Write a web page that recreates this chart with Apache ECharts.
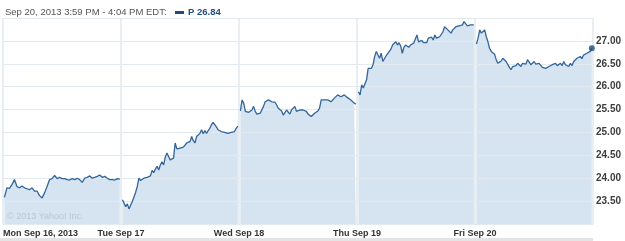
<!DOCTYPE html>
<html><head><meta charset="utf-8">
<script src="https://cdn.jsdelivr.net/npm/echarts@6/dist/echarts.min.js"></script>
<style>html,body{margin:0;padding:0;background:#fff}#c{width:625px;height:241px}</style>
</head><body><div id="c"></div>
<script>
const dayLabels = ['Mon Sep 16, 2013', 'Tue Sep 17', 'Wed Sep 18', 'Thu Sep 19', 'Fri Sep 20', ''];
const headerText = 'Sep 20, 2013 3:59 PM - 4:04 PM EDT:';
const ticker = 'P';
const yMin = 23, yMax = 27.5, yStep = 0.5;

const mon = [23.58,23.79,23.78,23.86,23.97,23.82,23.79,23.83,23.79,23.77,23.75,23.79,23.72,23.72,23.62,23.57,23.68,23.82,23.97,23.99,24.06,23.99,24.02,23.99,23.99,23.97,23.96,23.99,23.97,24.00,23.97,23.91,24.00,24.02,24.05,24.00,24.02,24.04,24.07,24.02,24.04,24.00,23.97,23.97,23.96,23.99,23.98];
const tue = [23.53,23.57,23.38,23.44,23.33,23.31,23.49,23.59,23.69,23.82,24.00,23.95,23.97,24.00,23.98,24.02,24.00,24.05,24.17,24.12,24.20,24.26,24.18,24.29,24.36,24.29,24.46,24.55,24.51,24.40,24.40,24.44,24.77,24.64,24.68,24.66,24.68,24.68,24.71,24.77,24.78,24.80,24.91,24.82,24.77,24.91,24.95,24.98,25.06,24.97,25.04,24.98,25.04,25.09,25.17,25.22,25.20,25.12,25.06,25.04,25.02,25.00,25.00,24.98,24.98,24.97,25.00,24.98,25.02,25.09,25.14];
const wed = [25.47,25.71,25.64,25.46,25.49,25.44,25.47,25.49,25.57,25.46,25.40,25.42,25.42,25.46,25.57,25.67,25.71,25.71,25.69,25.67,25.64,25.66,25.60,25.53,25.49,25.47,25.38,25.42,25.49,25.52,25.40,25.49,25.52,25.57,25.46,25.44,25.49,25.47,25.49,25.47,25.46,25.40,25.38,25.35,25.37,25.42,25.42,25.47,25.53,25.71,25.71,25.71,25.70,25.71,25.69,25.67,25.71,25.75,25.71,25.82,25.81,25.78,25.82,25.82,25.78,25.76,25.73,25.71,25.67,25.64,25.62];
const thu = [25.89,25.82,26.04,25.97,25.93,26.15,26.40,26.37,26.40,26.48,26.66,26.77,26.79,26.62,26.73,26.55,26.57,26.67,26.72,26.72,26.82,26.91,26.88,26.98,26.91,26.96,26.89,26.73,26.86,26.91,26.88,26.86,26.91,26.95,26.95,26.98,27.13,26.98,26.98,27.01,26.96,26.93,26.96,27.06,27.02,27.08,27.02,27.13,27.06,27.06,27.09,27.13,27.20,27.31,27.35,27.24,27.20,27.17,27.24,27.28,27.31,27.31,27.33,27.31,27.35,27.42,27.40,27.33,27.31,27.35,27.33,27.35];
const fri = [26.93,27.06,27.24,27.17,27.17,27.24,27.09,26.98,26.84,26.77,26.73,26.71,26.59,26.51,26.53,26.56,26.62,26.64,26.55,26.51,26.42,26.37,26.44,26.48,26.46,26.51,26.48,26.44,26.51,26.55,26.49,26.59,26.55,26.48,26.51,26.55,26.49,26.48,26.51,26.49,26.42,26.46,26.40,26.44,26.44,26.46,26.48,26.49,26.51,26.46,26.49,26.51,26.46,26.55,26.48,26.51,26.44,26.51,26.46,26.55,26.55,26.62,26.59,26.66,26.61,26.69,26.66,26.73,26.71,26.77,26.84];

const days = [mon, tue, wed, thu, fri];
// each session spans one day unit on the x axis (time of day as a fraction of the session)
function session(vals, d) {
  const n = vals.length;
  return vals.map((v, i) => [d + 0.012 + (i / (n - 1)) * 0.978, v]);
}
const LINE = '#33659a', FILL = '#d5e4f0', GRID = '#e2e9ef';
const series = [];
days.forEach((vals, d) => {
  const pts = session(vals, d);
  // fill under the gridlines
  series.push({ type: 'line', data: pts, showSymbol: false, symbol: 'none',
    lineStyle: { width: 0, opacity: 0 }, areaStyle: { color: FILL, opacity: 1, origin: 'start' },
    z: 1, animation: false, silent: true });
  // price line above the gridlines
  series.push({ type: 'line', data: pts, showSymbol: false, symbol: 'none',
    lineStyle: { color: LINE, width: 1.3 }, itemStyle: { color: LINE }, z: 4, animation: false });
});
const friPts = session(fri, 4);
const last = friPts[friPts.length - 1];
series.push({ type: 'scatter', data: [last], symbol: 'circle', symbolSize: 6,
  itemStyle: { color: '#1f4d7d' }, z: 5, animation: false });

const chart = echarts.init(document.getElementById('c'), null, { renderer: 'canvas' });
chart.setOption({
  animation: false,
  grid: { left: 3, right: 32, top: 18, bottom: 17, containLabel: false },
  xAxis: {
    type: 'value', min: 0, max: 5, interval: 1, z: 3,
    axisLine: { show: false }, axisTick: { show: false },
    splitLine: { show: true, lineStyle: { color: GRID, width: 1.5 } },
    axisLabel: {
      margin: 5, fontFamily: 'Liberation Sans', fontWeight: 'bold', fontSize: 9, color: '#333',
      alignMinLabel: 'left', formatter: v => dayLabels[Math.round(v)] || ''
    }
  },
  yAxis: {
    type: 'value', position: 'right', min: yMin, max: yMax, interval: yStep, z: 3,
    axisLine: { show: false }, axisTick: { show: false },
    splitLine: { show: true, lineStyle: { color: GRID, width: 1 } },
    axisLabel: {
      margin: 3, fontFamily: 'Liberation Sans', fontWeight: 'bold', fontSize: 10, color: '#3d3d3d',
      formatter: v => (v <= yMin + 1e-9 || v >= yMax - 1e-9) ? '' : v.toFixed(2)
    }
  },
  graphic: [
    { type: 'rect', left: 0, top: 238, shape: { width: 593, height: 3 }, style: { fill: '#e4e4e4' }, silent: true },
    { type: 'text', left: 5, top: 7, style: { text: headerText, font: '9.5px "Liberation Sans"', fill: '#555' } },
    { type: 'rect', left: 175, top: 11, shape: { width: 9, height: 3 }, style: { fill: '#1f4d7d' } },
    { type: 'text', left: 188, top: 7, style: { text: ticker + ' ' + fri[fri.length - 1].toFixed(2), font: 'bold 9.5px "Liberation Sans"', fill: '#1f4d8a' } },
    { type: 'text', left: 7, top: 212, z: 10, style: { text: '\u00a9 2013 Yahoo! Inc.', font: '9px "Liberation Sans"', fill: '#b8c7d6' } }
  ],
  series: series
});
</script></body></html>
